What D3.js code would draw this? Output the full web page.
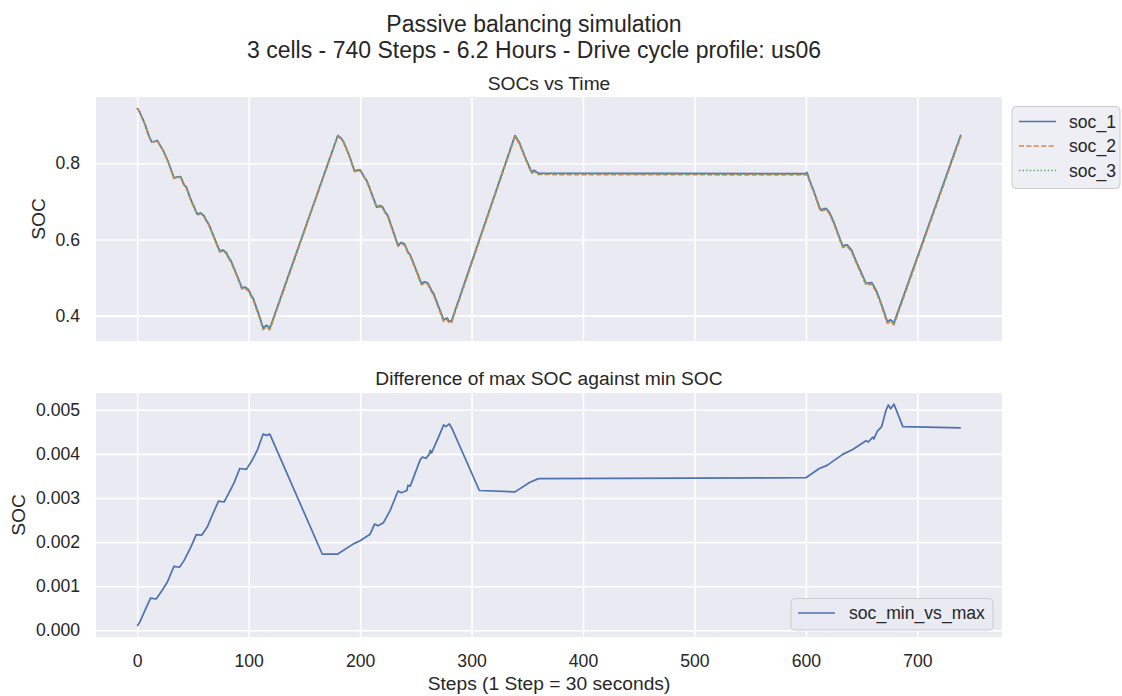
<!DOCTYPE html>
<html>
<head>
<meta charset="utf-8">
<script src="https://cdn.jsdelivr.net/npm/d3@7"></script>
<style>
    body { margin: 0; background: white; }
    svg { font-family: "Liberation Sans", Arial, sans-serif; }
</style>
</head>
<body>
<svg id="chart" width="1122" height="696"></svg>
<script>
const topSteps = [0, 2, 7, 10, 13, 16, 18, 21, 23, 28, 33, 36, 39, 42, 44, 48, 54, 57, 60, 62, 64, 69, 74, 77, 80, 82, 84, 89, 94, 97, 100, 102, 104, 109, 113, 116, 119,
    180, 183, 185, 190, 195, 198, 200, 204, 206, 215, 218, 220, 223, 225, 234, 237, 240, 243, 245, 255, 258, 261, 264, 266, 275, 278, 280, 282,
    339, 343, 349, 354, 356, 360, 600, 601, 603, 607, 613, 618, 621, 625, 633, 637, 641, 646, 654, 659, 663, 667, 673, 676, 679, 739];

const soc_1 = [0.945, 0.936, 0.903, 0.876, 0.856, 0.858, 0.860, 0.845, 0.836, 0.803, 0.762, 0.764, 0.765, 0.744, 0.738, 0.706, 0.666, 0.670, 0.662, 0.650, 0.642, 0.606, 0.570, 0.572, 0.566, 0.553, 0.545, 0.510, 0.473, 0.475, 0.468, 0.455, 0.446, 0.405, 0.368, 0.375, 0.367,
    0.873, 0.866, 0.858, 0.823, 0.780, 0.782, 0.783, 0.763, 0.755, 0.685, 0.689, 0.686, 0.670, 0.662, 0.585, 0.592, 0.588, 0.567, 0.560, 0.485, 0.489, 0.485, 0.467, 0.458, 0.389, 0.394, 0.385, 0.386,
    0.873, 0.854, 0.810, 0.777, 0.782, 0.774, 0.773, 0.776, 0.758, 0.728, 0.678, 0.682, 0.672, 0.646, 0.583, 0.586, 0.572, 0.537, 0.485, 0.487, 0.467, 0.437, 0.385, 0.389, 0.381, 0.875];

const soc_2 = [0.9449, 0.9358, 0.9026, 0.8754, 0.8553, 0.8573, 0.8593, 0.8441, 0.8351, 0.8019, 0.7605, 0.7626, 0.7636, 0.7424, 0.7363, 0.7041, 0.6638, 0.6678, 0.6597, 0.6476, 0.6395, 0.6033, 0.5671, 0.5691, 0.5630, 0.5499, 0.5418, 0.5065, 0.4693, 0.4713, 0.4642, 0.4511, 0.4420, 0.4008, 0.3635, 0.3706, 0.3625,
    0.8713, 0.8643, 0.8562, 0.8211, 0.7780, 0.7800, 0.7810, 0.7609, 0.7529, 0.6827, 0.6866, 0.6836, 0.6674, 0.6593, 0.5819, 0.5889, 0.5848, 0.5637, 0.5567, 0.4812, 0.4851, 0.4810, 0.4630, 0.4538, 0.3844, 0.3894, 0.3803, 0.3814,
    0.8699, 0.8508, 0.8067, 0.7736, 0.7786, 0.7706, 0.7695, 0.7725, 0.7545, 0.7244, 0.6743, 0.6783, 0.6682, 0.6421, 0.5790, 0.5820, 0.5679, 0.5328, 0.4807, 0.4826, 0.4625, 0.4324, 0.3800, 0.3839, 0.3759, 0.8704];

const soc_3 = [0.9450, 0.9359, 0.9028, 0.8757, 0.8557, 0.8577, 0.8597, 0.8446, 0.8356, 0.8025, 0.7613, 0.7633, 0.7643, 0.7432, 0.7372, 0.7051, 0.6649, 0.6689, 0.6609, 0.6488, 0.6408, 0.6047, 0.5686, 0.5706, 0.5645, 0.5515, 0.5434, 0.5083, 0.4712, 0.4732, 0.4661, 0.4531, 0.4440, 0.4029, 0.3658, 0.3728, 0.3648,
    0.8722, 0.8652, 0.8571, 0.8221, 0.7790, 0.7810, 0.7820, 0.7620, 0.7540, 0.6839, 0.6878, 0.6848, 0.6687, 0.6607, 0.5835, 0.5905, 0.5864, 0.5654, 0.5584, 0.4831, 0.4871, 0.4830, 0.4650, 0.4559, 0.3867, 0.3917, 0.3827, 0.3837,
    0.8715, 0.8524, 0.8084, 0.7753, 0.7803, 0.7723, 0.7713, 0.7743, 0.7563, 0.7262, 0.6762, 0.6802, 0.6701, 0.6441, 0.5810, 0.5840, 0.5700, 0.5349, 0.4829, 0.4848, 0.4648, 0.4347, 0.3825, 0.3865, 0.3785, 0.8727];

// Steps and values of the max - min SOC difference (bottom panel)
const diffSteps = [0, 2, 7, 12, 17, 22, 27, 33, 38, 42, 48, 53, 58, 63, 67, 73, 78, 82, 87, 92, 98, 103, 108, 113, 116, 119,
    166, 180, 194, 200, 209, 213, 216, 221, 227, 234, 237, 242, 243, 245, 254, 256, 259, 262, 263, 264, 270, 275, 277, 280, 282,
    307, 339, 352, 360, 600, 612, 619, 633, 642, 654, 656, 660, 661, 664, 668, 672, 674, 676, 679, 687, 739];

const soc_min_vs_max = [0.00010, 0.00017, 0.00045, 0.00073, 0.00071, 0.00089, 0.00109, 0.00145, 0.00143, 0.00158, 0.00188, 0.00217, 0.00216, 0.00235, 0.00259, 0.00293, 0.00291, 0.00310, 0.00335, 0.00367, 0.00365, 0.00385, 0.00410, 0.00445, 0.00442, 0.00445,
    0.00173, 0.00173, 0.00196, 0.00203, 0.00218, 0.00241, 0.00237, 0.00244, 0.00272, 0.00316, 0.00312, 0.00317, 0.00329, 0.00327, 0.00387, 0.00393, 0.00390, 0.00399, 0.00408, 0.00402, 0.00436, 0.00466, 0.00462, 0.00468, 0.00460,
    0.00317, 0.00314, 0.00335, 0.00344, 0.00346, 0.00367, 0.00374, 0.00399, 0.00410, 0.00430, 0.00427, 0.00438, 0.00434, 0.00451, 0.00462, 0.00500, 0.00511, 0.00502, 0.00513, 0.00462, 0.00459];

const xTicks = [0, 100, 200, 300, 400, 500, 600, 700];
const topYTicks = [0.4, 0.6, 0.8];
const bottomYTicks = [0, 0.001, 0.002, 0.003, 0.004, 0.005];

const topSeries = [
    {name: "soc_1", values: soc_1, color: "#4C72B0", dash: null},
    {name: "soc_2", values: soc_2, color: "#DD8452", dash: "5,2.4"},
    {name: "soc_3", values: soc_3, color: "#55A868", dash: "1.4,2.2"}
];

const textColor = "#262626",
    faceColor = "#EAEAF2";

let svg = d3.select("#chart");

// Axes boxes
let left = 96, right = 1002,
    topPanel = {top: 97, bottom: 341},
    botPanel = {top: 393, bottom: 637};

// Pads a data extent by 5% like matplotlib does
function padded(ext) {
    let m = (ext[1] - ext[0]) * 0.05;
    return [ext[0] - m, ext[1] + m];
}

let x = d3.scaleLinear()
    .domain(padded([0, 739]))
    .range([left, right]);

let yTop = d3.scaleLinear()
    .domain(padded(d3.extent(soc_1.concat(soc_2, soc_3))))
    .range([topPanel.bottom, topPanel.top]);

let yBot = d3.scaleLinear()
    .domain(padded(d3.extent(soc_min_vs_max)))
    .range([botPanel.bottom, botPanel.top]);

// Draws background, grid and tick labels for one panel
function drawPanel(panel, y, yTicks, yFormat, showX) {
    let h = panel.bottom - panel.top;
    svg.append("rect")
        .attr("x", left)
        .attr("y", panel.top)
        .attr("width", right - left)
        .attr("height", h)
        .attr("fill", faceColor);

    let xa = svg.append("g")
        .attr("transform", "translate(0," + panel.bottom + ")")
        .call(d3.axisBottom(x)
            .tickValues(xTicks)
            .tickSize(-h)
            .tickPadding(18)
            .tickFormat(showX ? d3.format("d") : ""));

    let ya = svg.append("g")
        .attr("transform", "translate(" + left + ",0)")
        .call(d3.axisLeft(y)
            .tickValues(yTicks)
            .tickSize(-(right - left))
            .tickPadding(16)
            .tickFormat(d3.format(yFormat)));

    [xa, ya].forEach(function(a) {
        a.select(".domain").remove();
        a.selectAll(".tick line")
            .attr("stroke", "white")
            .attr("stroke-width", 1.6);
        a.selectAll(".tick text")
            .attr("fill", textColor)
            .style("font-size", "17.6px")
            .style("font-family", "'Liberation Sans', Arial, sans-serif");
    });
}

drawPanel(topPanel, yTop, topYTicks, ".1f", false);
drawPanel(botPanel, yBot, bottomYTicks, ".3f", true);

// Clip paths so lines stay inside the panels
let defs = svg.append("defs");
[["clipTop", topPanel], ["clipBot", botPanel]].forEach(function(c) {
    defs.append("clipPath")
        .attr("id", c[0])
        .append("rect")
            .attr("x", left)
            .attr("y", c[1].top)
            .attr("width", right - left)
            .attr("height", c[1].bottom - c[1].top);
});

// SOC lines
let topLine = d3.line()
    .x(function(d) { return x(d[0]); })
    .y(function(d) { return yTop(d[1]); });

topSeries.forEach(function(s) {
    svg.append("path")
        .datum(d3.zip(topSteps, s.values))
        .attr("clip-path", "url(#clipTop)")
        .attr("d", topLine)
        .attr("fill", "none")
        .attr("stroke", s.color)
        .attr("stroke-width", 1.7)
        .attr("stroke-dasharray", s.dash)
        .attr("stroke-linejoin", "round");
});

// Difference line
let botLine = d3.line()
    .x(function(d) { return x(d[0]); })
    .y(function(d) { return yBot(d[1]); });

svg.append("path")
    .datum(d3.zip(diffSteps, soc_min_vs_max))
    .attr("clip-path", "url(#clipBot)")
    .attr("d", botLine)
    .attr("fill", "none")
    .attr("stroke", "#4C72B0")
    .attr("stroke-width", 1.7)
    .attr("stroke-linejoin", "round");

// Titles and labels
function addText(tx, ty, str, size, rotate) {
    let t = svg.append("text")
        .attr("x", tx)
        .attr("y", ty)
        .attr("text-anchor", "middle")
        .attr("fill", textColor)
        .style("font-size", size + "px")
        .text(str);
    if (rotate) {
        t.attr("transform", "rotate(-90," + tx + "," + ty + ")");
    }
    return t;
}

addText(534, 32, "Passive balancing simulation", 23);
addText(534, 57.5, "3 cells - 740 Steps - 6.2 Hours - Drive cycle profile: us06", 23);
addText((left + right) / 2, 89.5, "SOCs vs Time", 19.2);
addText((left + right) / 2, 384.5, "Difference of max SOC against min SOC", 19.2);
addText((left + right) / 2, 690, "Steps (1 Step = 30 seconds)", 19.2);
addText(45, (topPanel.top + topPanel.bottom) / 2, "SOC", 19.2, true);
addText(24.5, (botPanel.top + botPanel.bottom) / 2, "SOC", 19.2, true);

// Legend for the top panel (outside, upper left)
let legTop = svg.append("g")
    .attr("transform", "translate(1012,106.5)");

legTop.append("rect")
    .attr("width", 108)
    .attr("height", 82)
    .attr("rx", 4)
    .attr("fill", "#EEEEF5")
    .attr("stroke", "#CCCCCC")
    .attr("stroke-width", 1);

topSeries.forEach(function(s, i) {
    let row = legTop.append("g")
        .attr("transform", "translate(0," + (15 + i * 24.5) + ")");
    row.append("line")
        .attr("x1", 7)
        .attr("x2", 44)
        .attr("stroke", s.color)
        .attr("stroke-width", 1.7)
        .attr("stroke-dasharray", s.dash);
    row.append("text")
        .attr("x", 57)
        .attr("dy", "0.35em")
        .attr("fill", textColor)
        .style("font-size", "17.6px")
        .text(s.name);
});

// Legend for the bottom panel (lower right)
let legBot = svg.append("g")
    .attr("transform", "translate(791,598.5)");

legBot.append("rect")
    .attr("width", 202)
    .attr("height", 31.5)
    .attr("rx", 4)
    .attr("fill", faceColor)
    .attr("stroke", "#CCCCCC")
    .attr("stroke-width", 1);

legBot.append("line")
    .attr("x1", 7)
    .attr("x2", 44)
    .attr("y1", 14.5)
    .attr("y2", 14.5)
    .attr("stroke", "#4C72B0")
    .attr("stroke-width", 1.7);

legBot.append("text")
    .attr("x", 58)
    .attr("y", 14.5)
    .attr("dy", "0.35em")
    .attr("fill", textColor)
    .style("font-size", "17.6px")
    .text("soc_min_vs_max");
</script>
</body>
</html>
